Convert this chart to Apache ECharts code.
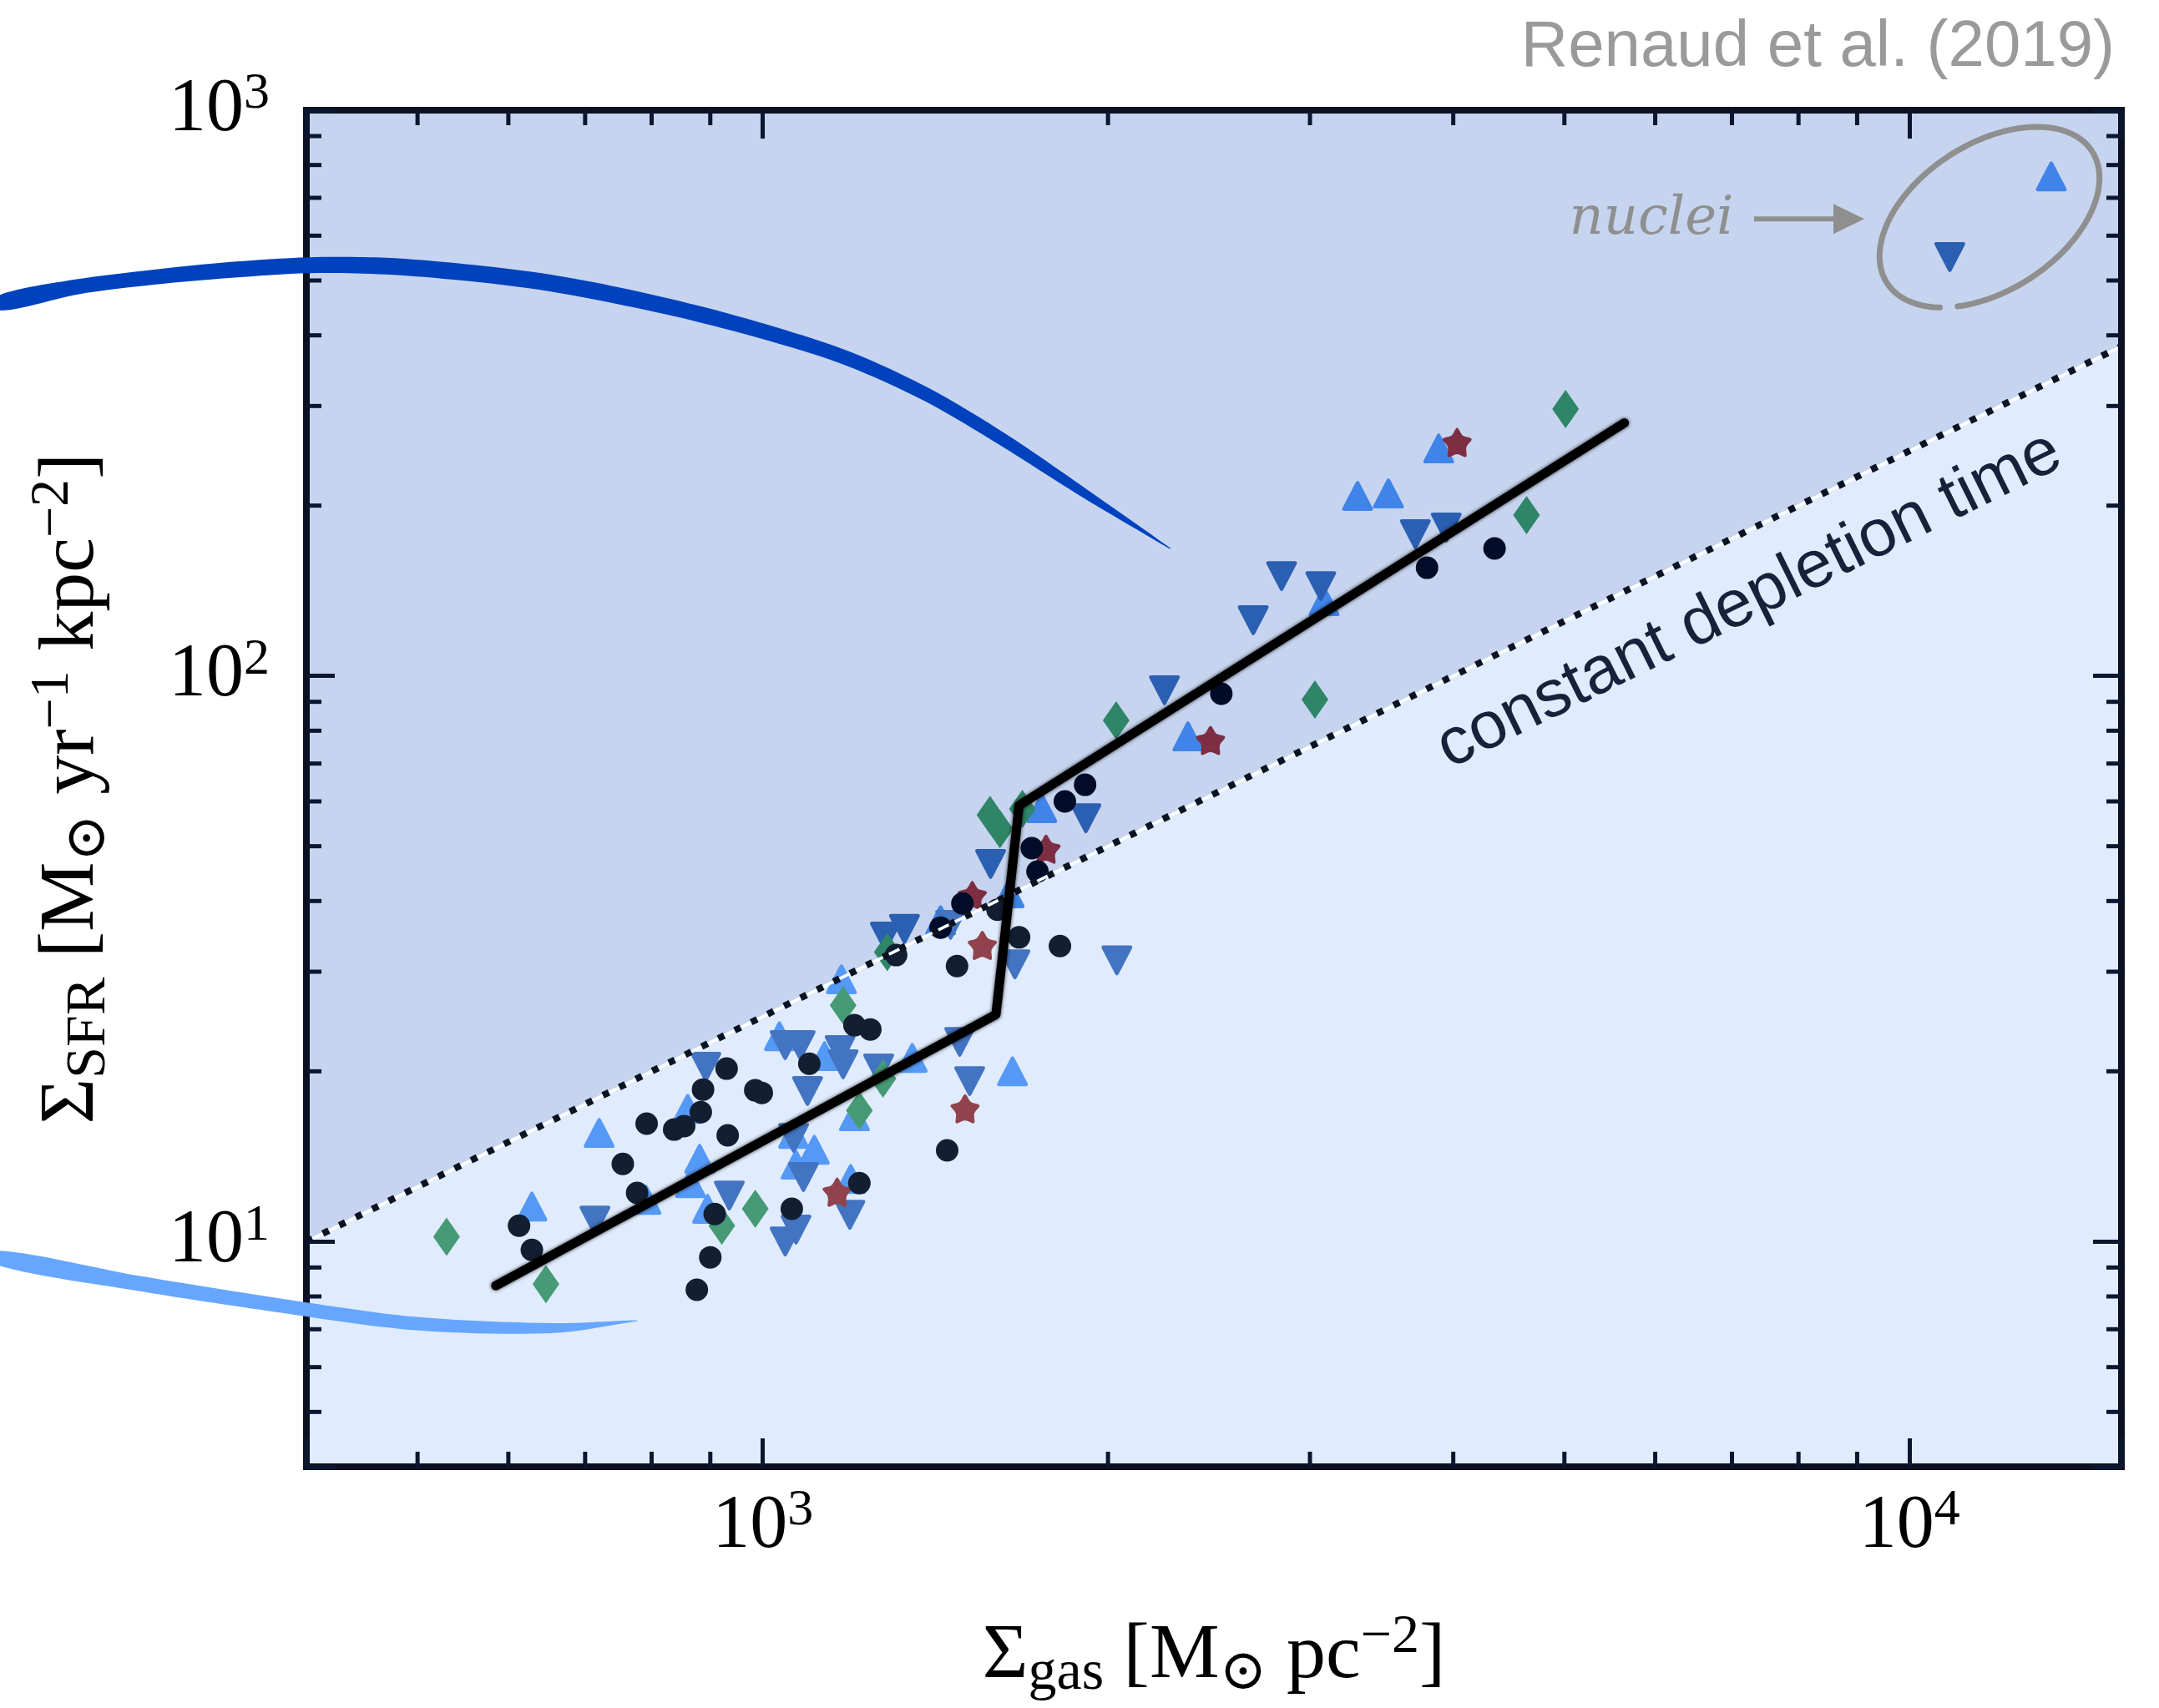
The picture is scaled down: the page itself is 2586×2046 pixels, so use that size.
<!DOCTYPE html>
<html>
<head>
<meta charset="utf-8">
<script src="https://cdn.jsdelivr.net/npm/echarts@6/dist/echarts.min.js"></script>
<style>
html, body { margin: 0; padding: 0; background: #fff; }
#chart { width: 2586px; height: 2046px; }
</style>
</head>
<body>
<div id="chart"></div>
<script>
// axis ranges
var xMin = 400, xMax = 15300;
var yMin = 4, yMax = 1000;

var xMinorTicks = [500, 600, 700, 800, 900, 2000, 3000, 4000, 5000, 6000, 7000, 8000, 9000];
var yMinorTicks = [5, 6, 7, 8, 9, 20, 30, 40, 50, 60, 70, 80, 90, 200, 300, 400, 500, 600, 700, 800, 900];

// [Sigma_gas, Sigma_SFR]
var circles = [
    [613, 10.67], [629, 9.67], [755, 13.72], [777, 12.19], [792, 16.16], [837, 15.78], [854, 16.0],
    [883, 16.94], [887, 18.57], [930, 20.22], [932, 15.41], [985, 18.51], [998, 18.32], [1098, 20.63],
    [908, 11.19], [900, 9.38], [876, 8.22], [1060, 11.43],
    [1202, 24.13], [1241, 23.72], [1448, 14.5], [1214, 12.69],
    [1910, 64.2], [1834, 60.0], [1716, 49.6], [1736, 45.1], [1493, 39.6], [1429, 35.9], [1307, 32.1],
    [1477, 30.7], [1673, 34.5], [1816, 33.3], [1602, 38.6],
    [2511, 93.0], [3795, 155.3], [4346, 168.0]
];
var upTriangles = [
    [720, 15.57], [629, 11.54], [860, 17.17], [881, 14.01], [865, 12.69], [895, 11.43], [791, 11.86],
    [1034, 23.08], [1064, 15.51], [1109, 14.54], [1069, 13.68], [1132, 21.28],
    [1651, 20.01], [1350, 21.13], [1202, 16.66], [1193, 12.91],
    [1751, 58.4], [1640, 41.3], [1429, 37.0], [1171, 29.1],
    [2348, 78.2], [3885, 252.5], [3301, 208.1], [3512, 210.2], [3086, 135.6],
    [13290, 764]
];
var downTriangles = [
    [892, 20.36], [1046, 22.24], [1078, 22.24], [1094, 18.45], [1064, 15.25], [935, 12.06], [1085, 13.0],
    [1069, 10.5], [1046, 10.0], [714, 10.89],
    [1515, 19.21], [1485, 22.54], [1168, 21.79], [1175, 20.57], [1191, 11.15], [1262, 20.22],
    [2240, 94.3], [1913, 56.0], [1580, 46.5], [1329, 35.7], [1458, 36.3], [1659, 30.9], [2036, 31.4], [1279, 34.6],
    [2834, 150.1], [3066, 144.1], [2677, 125.4], [3707, 178.0], [3944, 182.9],
    [10840, 550]
];
var diamonds = [
    [530, 10.2], [647, 8.41], [921, 10.67], [985, 11.43],
    [1175, 26.17], [1273, 19.42], [1214, 17.06],
    [1578, 56.8], [1610, 53.6], [1684, 58.2], [2033, 83.4], [1284, 32.5],
    [5012, 296.2], [4634, 192.4], [3030, 90.8]
];
var stars = [
    [1501, 17.17], [1161, 12.23],
    [1766, 49.4], [1523, 40.9], [1554, 33.4],
    [4031, 258.6], [2457, 76.9]
];

var depletionLine = [[400, 10], [15300, 382.5]];
var depletionLabelAt = [7250, 136];
var fitLine = [[585, 8.36], [1597, 25.2], [1632, 37.3], [1673, 59], [5640, 280]];

// the two brush strokes, centre line and width
var darkArc = [[216, 456], [252, 487], [295, 507], [344, 522], [402, 532], [469, 530], [548, 517], [640, 498],
    [748, 470], [873, 438], [1020, 402], [1190, 363], [1391, 314], [1623, 261], [1897, 212], [2266, 168]];
var darkArcWidth = [18, 18, 18, 19, 19, 20, 20, 20, 20, 19, 18, 17, 16, 15, 11, 1];
var lightArc = [[216, 9.35], [285, 8.44], [376, 7.73], [496, 7.17], [654, 7.03], [777, 7.25]];
var lightArcWidth = [18, 18, 17, 16, 12, 1];

var nucleiCenter = [11740, 647];

var serif = "'Liberation Serif', 'DejaVu Serif', serif";
var sans = "'Liberation Sans', Arial, sans-serif";
var frameColor = '#0b1120';
var tickColor = '#0b1630';

var triUp = 'path://M44,6 Q50,-4 56,6 L97,78 Q103,88 91,88 L9,88 Q-3,88 3,78 Z';
var triDown = 'path://M44,82 Q50,92 56,82 L97,10 Q103,0 91,0 L9,0 Q-3,0 3,10 Z';

function starPath() {
    var pts = [];
    for (var i = 0; i < 10; i++) {
        var ang = (-90 + 36 * i) * Math.PI / 180;
        var r = i % 2 === 0 ? 50 : 27;
        pts.push([50 + r * Math.cos(ang), 50 + r * Math.sin(ang)]);
    }
    var lerp = function (a, b, t) { return [a[0] + (b[0] - a[0]) * t, a[1] + (b[1] - a[1]) * t]; };
    var d = '';
    for (var k = 0; k < 10; k++) {
        var prev = pts[(k + 9) % 10], cur = pts[k], next = pts[(k + 1) % 10];
        var t = k % 2 === 0 ? 0.35 : 0.25;
        var a = lerp(cur, prev, t), b = lerp(cur, next, t);
        d += (k === 0 ? 'M' : 'L') + a[0].toFixed(1) + ',' + a[1].toFixed(1) +
            ' Q' + cur[0].toFixed(1) + ',' + cur[1].toFixed(1) + ' ' + b[0].toFixed(1) + ',' + b[1].toFixed(1) + ' ';
    }
    return 'path://' + d + 'Z';
}

var depletionRatio = depletionLine[0][0] / depletionLine[0][1];
function sideColor(above, below) {
    return function (p) {
        return p.data[1] > p.data[0] / depletionRatio ? above : below;
    };
}

function powLabel(v) {
    var e = Math.round(Math.log(v) / Math.LN10);
    if (Math.abs(v - Math.pow(10, e)) > 1e-6 * v) return '';
    return '{b|10}{s|' + e + '}';
}
var tickRich = {
    b: { fontFamily: serif, fontSize: 90, lineHeight: 100, color: '#000' },
    s: { fontFamily: serif, fontSize: 62, lineHeight: 50, verticalAlign: 'top', color: '#000' }
};
var nameRich = {
    m: { fontFamily: serif, fontSize: 94, lineHeight: 110, color: '#000' },
    sub: { fontFamily: serif, fontSize: 68, lineHeight: 64, verticalAlign: 'bottom', color: '#000' },
    sup: { fontFamily: serif, fontSize: 66, lineHeight: 56, verticalAlign: 'top', color: '#000' }
};

function axisBase(pos, min, max) {
    return {
        type: 'log', logBase: 10, min: min, max: max, position: pos, z: 8,
        axisLine: { show: true, onZero: false, lineStyle: { color: frameColor, width: 8, cap: 'square' } },
        axisTick: { show: true, inside: true, length: 34, lineStyle: { color: tickColor, width: 5 } },
        minorTick: { show: false },
        splitLine: { show: false },
        axisLabel: { show: false }
    };
}

var xBottom = axisBase('bottom', xMin, xMax);
xBottom.axisLabel = { show: true, margin: 22, formatter: powLabel, rich: tickRich, showMinLabel: true, showMaxLabel: true };
xBottom.name = '{m|\u03A3}{sub|gas}{m| [M}{sub|\u2299}{m| pc}{sup|\u22122}{m|]}';
xBottom.nameLocation = 'middle';
xBottom.nameGap = 172;
xBottom.nameTextStyle = { fontFamily: serif, fontSize: 94, color: '#000', rich: nameRich };

var yLeft = axisBase('left', yMin, yMax);
yLeft.axisLabel = { show: true, margin: 44, formatter: powLabel, rich: tickRich, showMinLabel: true, showMaxLabel: true };
yLeft.name = '{m|\u03A3}{sub|SFR}{m| [M}{sub|\u2299}{m| yr}{sup|\u22121}{m| kpc}{sup|\u22122}{m|]}';
yLeft.nameLocation = 'middle';
yLeft.nameGap = 226;
yLeft.nameTextStyle = { fontFamily: serif, fontSize: 94, color: '#000', rich: nameRich };

// tapered brush stroke built around a centre line
function taperRender(points, widths, color) {
    return function (params, api) {
        if (params.dataIndex !== 0) return null;
        var px = points.map(function (p) { return api.coord(p); });
        var left = [], right = [];
        for (var i = 0; i < px.length; i++) {
            var a = px[Math.max(i - 1, 0)], b = px[Math.min(i + 1, px.length - 1)];
            var dx = b[0] - a[0], dy = b[1] - a[1], len = Math.sqrt(dx * dx + dy * dy) || 1;
            var nx = -dy / len, ny = dx / len, h = widths[i] / 2;
            left.push([px[i][0] + nx * h, px[i][1] + ny * h]);
            right.unshift([px[i][0] - nx * h, px[i][1] - ny * h]);
        }
        return { type: 'polygon', shape: { points: left.concat(right), smooth: 0.3 }, style: { fill: color } };
    };
}

function scatter(name, data, symbol, size, above, below, z) {
    return {
        name: name, type: 'scatter', data: data, symbol: symbol, symbolSize: size, z: z,
        itemStyle: { color: sideColor(above, below), opacity: 1 },
        silent: true
    };
}

var chart = echarts.init(document.getElementById('chart'), null, { renderer: 'canvas' });

var option = {
    animation: false,
    backgroundColor: '#ffffff',
    grid: { left: 367, right: 45, top: 132, bottom: 289, show: true, backgroundColor: '#e0ecfd', borderWidth: 0, containLabel: false, outerBoundsMode: 'none' },
    xAxis: [xBottom, axisBase('top', xMin, xMax)],
    yAxis: [yLeft, axisBase('right', yMin, yMax)],
    graphic: [{
        type: 'text', right: 53, top: 18, z: 20,
        style: { text: 'Renaud et al. (2019)', fontFamily: sans, fontSize: 78, fill: '#9a9a9a' }
    }],
    series: [
        {
            type: 'custom', name: 'upper', z: 1, silent: true, data: depletionLine,
            renderItem: function (params, api) {
                if (params.dataIndex !== 0) return null;
                var pts = [api.coord(depletionLine[0]), api.coord(depletionLine[1]),
                    api.coord([xMax, yMax]), api.coord([xMin, yMax])];
                return { type: 'polygon', shape: { points: pts }, style: { fill: '#c6d4ef' } };
            }
        },
        scatter('up', upTriangles, triUp, [37, 36], '#4084e9', '#5599f6', 3),
        scatter('down', downTriangles, triDown, [37, 36], '#2b5fb1', '#4374c1', 3),
        scatter('diamond', diamonds, 'diamond', [32, 46], '#2f8568', '#469a76', 3),
        scatter('star', stars, starPath(), [35, 35], '#7d2e42', '#91434d', 3),
        scatter('circle', circles, 'circle', 27, '#010d28', '#121f33', 3),
        {
            type: 'line', data: depletionLine, symbol: 'none', z: 4, silent: true,
            lineStyle: { color: '#ffffff', width: 3.5 }
        },
        {
            type: 'line', data: depletionLine, symbol: 'none', z: 5, silent: true,
            lineStyle: { color: '#0a1322', width: 8, type: [8, 14], cap: 'butt' }
        },
        {
            type: 'line', data: fitLine, symbol: 'none', z: 6, silent: true,
            lineStyle: { color: '#000000', width: 11, join: 'round', cap: 'round', shadowColor: 'rgba(0,0,0,0.8)', shadowBlur: 4 }
        },
        {
            type: 'custom', name: 'depletionLabel', z: 6, silent: true, data: [depletionLabelAt],
            renderItem: function (params, api) {
                var p = api.coord([api.value(0), api.value(1)]);
                var a = api.coord(depletionLine[0]), b = api.coord(depletionLine[1]);
                var rot = -Math.atan2(b[1] - a[1], b[0] - a[0]);
                return {
                    type: 'text', x: p[0], y: p[1], rotation: rot,
                    style: { text: 'constant depletion time', fontFamily: sans, fontSize: 80, fill: '#16223a', align: 'center', verticalAlign: 'middle' }
                };
            }
        },
        {
            type: 'custom', name: 'xMinor', z: 9, silent: true,
            data: xMinorTicks.map(function (v) { return [v, yMin]; }),
            renderItem: function (params, api) {
                var cs = params.coordSys;
                var x = api.coord([api.value(0), yMin])[0];
                var st = { stroke: tickColor, lineWidth: 5 };
                return {
                    type: 'group', children: [
                        { type: 'line', shape: { x1: x, y1: cs.y + cs.height, x2: x, y2: cs.y + cs.height - 18 }, style: st },
                        { type: 'line', shape: { x1: x, y1: cs.y, x2: x, y2: cs.y + 18 }, style: st }
                    ]
                };
            }
        },
        {
            type: 'custom', name: 'yMinor', z: 9, silent: true,
            data: yMinorTicks.map(function (v) { return [xMin, v]; }),
            renderItem: function (params, api) {
                var cs = params.coordSys;
                var y = api.coord([xMin, api.value(1)])[1];
                var st = { stroke: tickColor, lineWidth: 5 };
                return {
                    type: 'group', children: [
                        { type: 'line', shape: { x1: cs.x, y1: y, x2: cs.x + 18, y2: y }, style: st },
                        { type: 'line', shape: { x1: cs.x + cs.width, y1: y, x2: cs.x + cs.width - 18, y2: y }, style: st }
                    ]
                };
            }
        },
        {
            type: 'custom', name: 'darkArc', z: 10, silent: true, data: darkArc,
            renderItem: taperRender(darkArc, darkArcWidth, '#0042bd')
        },
        {
            type: 'custom', name: 'lightArc', z: 10, silent: true, data: lightArc,
            renderItem: taperRender(lightArc, lightArcWidth, '#66a6ff')
        },
        {
            type: 'custom', name: 'nuclei', z: 10, silent: true, data: [nucleiCenter],
            renderItem: function (params, api) {
                var c = api.coord([api.value(0), api.value(1)]);
                var th = 32.7 * Math.PI / 180, ra = 146, rb = 88;
                var pts = [];
                for (var k = 0; k <= 90; k++) {
                    var t = (138 + 350 * k / 90) * Math.PI / 180;
                    var ex = ra * Math.cos(t), ey = rb * Math.sin(t);
                    pts.push([c[0] + ex * Math.cos(th) + ey * Math.sin(th), c[1] - ex * Math.sin(th) + ey * Math.cos(th)]);
                }
                var grey = '#8f8f8f';
                return {
                    type: 'group', children: [
                        { type: 'polyline', shape: { points: pts }, style: { stroke: grey, lineWidth: 7, lineCap: 'round', fill: null } },
                        { type: 'line', shape: { x1: c[0] - 282, y1: c[1] + 2, x2: c[0] - 186, y2: c[1] + 2 }, style: { stroke: grey, lineWidth: 6 } },
                        { type: 'polygon', shape: { points: [[c[0] - 150, c[1] + 2], [c[0] - 187, c[1] - 16], [c[0] - 187, c[1] + 20]] }, style: { fill: grey } },
                        {
                            type: 'text', x: c[0] - 405, y: c[1] + 3,
                            style: { text: 'nuclei', fontFamily: "'DejaVu Serif', serif", fontStyle: 'italic', fontSize: 64, fill: grey, align: 'center', verticalAlign: 'middle' }
                        }
                    ]
                };
            }
        }
    ]
};

chart.setOption(option);
</script>
</body>
</html>
